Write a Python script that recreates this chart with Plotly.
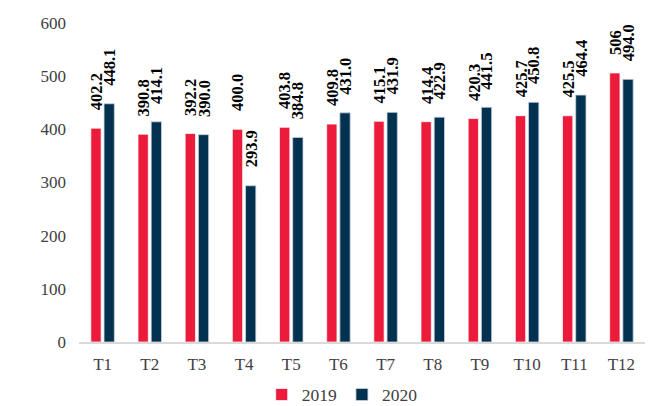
import plotly.graph_objects as go

categories = ["T1", "T2", "T3", "T4", "T5", "T6", "T7", "T8", "T9", "T10", "T11", "T12"]
values_2019 = [402.2, 390.8, 392.2, 400.0, 403.8, 409.8, 415.1, 414.4, 420.3, 425.7, 425.5, 506]
values_2020 = [448.1, 414.1, 390.0, 293.9, 384.8, 431.0, 431.9, 422.9, 441.5, 450.8, 464.4, 494.0]
labels_2019 = ["402.2", "390.8", "392.2", "400.0", "403.8", "409.8", "415.1", "414.4", "420.3", "425.7", "425.5", "506"]
labels_2020 = ["448.1", "414.1", "390.0", "293.9", "384.8", "431.0", "431.9", "422.9", "441.5", "450.8", "464.4", "494.0"]
y_ticks = [0, 100, 200, 300, 400, 500, 600]

RED = "#EC1B3B"
NAVY = "#033250"
FONT = "Liberation Serif, Times New Roman, serif"

fig = go.Figure()
fig.add_trace(go.Bar(name="2019", x=categories, y=values_2019,
                     marker=dict(color=RED, line=dict(color="rgba(255,255,255,0.7)", width=1))))
fig.add_trace(go.Bar(name="2020", x=categories, y=values_2020,
                     marker=dict(color=NAVY, line=dict(color="rgba(200,210,220,0.8)", width=1))))

annotations = []
for cat, v, t in zip(categories, values_2019, labels_2019):
    annotations.append(dict(x=cat, y=v, text=t, showarrow=False, textangle=-90,
                            xanchor="center", yanchor="bottom", xshift=-6, yshift=16,
                            font=dict(family=FONT, size=16.5, color="#000000", weight="bold")))
for cat, v, t in zip(categories, values_2020, labels_2020):
    annotations.append(dict(x=cat, y=v, text=t, showarrow=False, textangle=-90,
                            xanchor="center", yanchor="bottom", xshift=7, yshift=16,
                            font=dict(family=FONT, size=16.5, color="#000000", weight="bold")))

fig.update_layout(
    width=667, height=406,
    margin=dict(l=79, r=22, t=23, b=64, autoexpand=False),
    paper_bgcolor="white", plot_bgcolor="white",
    barmode="group", bargap=0.44, bargroupgap=0.22,
    font=dict(family=FONT, size=17, color="#404040"),
    showlegend=True,
    legend=dict(orientation="h", x=0.465, xanchor="center", y=-0.165, yanchor="middle",
                font=dict(family=FONT, size=17.5, color="#404040"), itemwidth=30,
                traceorder="normal"),
    annotations=annotations,
)
fig.update_xaxes(showgrid=False, showline=True, linecolor="#D9D9D9", linewidth=1.5,
                 ticks="", ticklabelstandoff=6, tickfont=dict(family=FONT, size=17, color="#404040"))
fig.update_yaxes(range=[0, 600], tickvals=y_ticks, showgrid=False, showline=False, zeroline=False,
                 ticks="", ticklabelstandoff=12, tickfont=dict(family=FONT, size=17, color="#404040"))

fig.write_html("out.html", config={"displayModeBar": False},
               post_script="document.body.style.margin='0';document.body.style.overflow='hidden';")
